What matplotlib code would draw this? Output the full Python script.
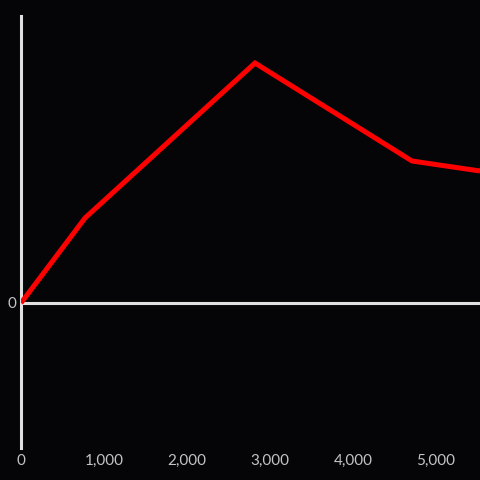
import matplotlib
matplotlib.use("Agg")
import matplotlib.pyplot as plt

x_values = [0, 771, 2819, 4711, 5530]
y_values = [0, 85, 240, 142, 132]
x_ticks = [0, 1000, 2000, 3000, 4000, 5000]
x_tick_labels = ["0", "1,000", "2,000", "3,000", "4,000", "5,000"]
y_ticks = [0]
y_tick_labels = ["0"]

bg = "#050407"
axis_col = "#e0e0e0"
text_col = "#c4c4c4"

plt.rcParams['font.family'] = ['Lato', 'DejaVu Sans']
fig = plt.figure(figsize=(4.8, 4.8), dpi=100, facecolor=bg)
ax = fig.add_axes([20.5/480, 1-448/480, 1-20.5/480, (448-16)/480])
ax.set_facecolor(bg)
ax.set_xlim(-6, 5530)
ax.set_ylim(-145, 287)

ax.axhline(0, color=axis_col, lw=2.2, zorder=1)
ax.plot(x_values, y_values, color="#ff0000", lw=3.6, zorder=3, solid_capstyle='butt', solid_joinstyle='miter', clip_on=True)

for s in ["top", "right", "bottom"]:
    ax.spines[s].set_visible(False)
ax.spines["left"].set_color(axis_col)
ax.spines["left"].set_linewidth(2.2)
ax.spines["left"].set_position(("data", 0))

ax.set_xticks(x_ticks)
ax.set_xticklabels(x_tick_labels)
ax.set_yticks(y_ticks)
ax.set_yticklabels(y_tick_labels)
ax.tick_params(axis='both', length=0, colors=text_col, labelsize=11)
ax.tick_params(axis='x', pad=4)
ax.tick_params(axis='y', pad=3)

fig.savefig("out.png", dpi=100, facecolor=bg)
